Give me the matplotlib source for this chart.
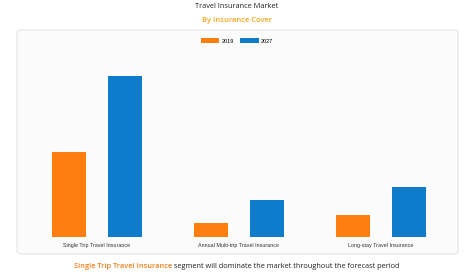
import numpy as np
import matplotlib
matplotlib.use("Agg")
import matplotlib.pyplot as plt
from matplotlib.patches import FancyBboxPatch

categories = ["Single Trip Travel Insurance", "Annual Multi-trip Travel Insurance", "Long-stay Travel Insurance"]
years = ["2019", "2027"]
values_2019 = [84.7, 14.3, 22.0]
values_2027 = [161.0, 37.3, 49.7]

orange = "#fe7f10"
blue = "#0f7ccb"

plt.rcParams['font.family'] = ['Open Sans', 'DejaVu Sans']

fig = plt.figure(figsize=(4.74, 2.74), dpi=100)
fig.patch.set_facecolor("white")

# rounded panel behind the chart
panel = FancyBboxPatch((17 / 474, 1 - 254 / 274), 441 / 474, 224 / 274,
                       boxstyle="round,pad=0,rounding_size=0.01",
                       transform=fig.transFigure, facecolor="#fcfbfb",
                       edgecolor="#e6e4e4", linewidth=0.8, zorder=-1)
fig.patches.append(panel)

ax = fig.add_axes([26 / 474, 37 / 274, 426 / 474, 177 / 274])
ax.set_facecolor("none")
x = np.arange(len(categories))
w = 0.24
ax.bar(x - 0.2, values_2019, w, color=orange, label=years[0])
ax.bar(x + 0.2, values_2027, w, color=blue, label=years[1])
ax.set_xlim(-0.5, 2.5)
ax.set_ylim(0, 177)
ax.set_yticks([])
ax.set_xticks(x)
ax.set_xticklabels(categories, fontsize=3.9, color="#333333", family=['Liberation Sans'])
ax.tick_params(axis="x", length=0, pad=4)
for s in ax.spines.values():
    s.set_visible(False)

ax.legend(loc="center", bbox_to_anchor=(237 / 474, 1 - 41 / 274), bbox_transform=fig.transFigure,
          ncol=2, frameon=False, handlelength=3.4, handleheight=0.9,
          columnspacing=1.1, handletextpad=0.4,
          prop={'family': 'Liberation Sans', 'size': 4.0})

fig.text(0.5, 1 - 7 / 274, "Travel Insurance Market", ha="center", va="center",
         fontsize=5.3, color="#222222")
fig.text(0.5, 1 - 20 / 274, "By Insurance Cover", ha="center", va="center",
         fontsize=5.4, color="#f5a623", fontweight="semibold")

# caption with highlighted segment name
part1 = "Single Trip Travel Insurance"
part2 = " segment will dominate the market throughout the forecast period"
cy = 1 - 267 / 274
t1 = fig.text(0, cy, part1, ha="left", va="center", fontsize=5.35, color="#f58220", fontweight="semibold")
t2 = fig.text(0, cy, part2, ha="left", va="center", fontsize=5.35, color="#222222")
fig.canvas.draw()
r = fig.canvas.get_renderer()
w1 = t1.get_window_extent(r).width / fig.bbox.width
w2 = t2.get_window_extent(r).width / fig.bbox.width
start = 0.5 - (w1 + w2) / 2
t1.set_x(start)
t2.set_x(start + w1)

fig.savefig("out.png", dpi=100)
